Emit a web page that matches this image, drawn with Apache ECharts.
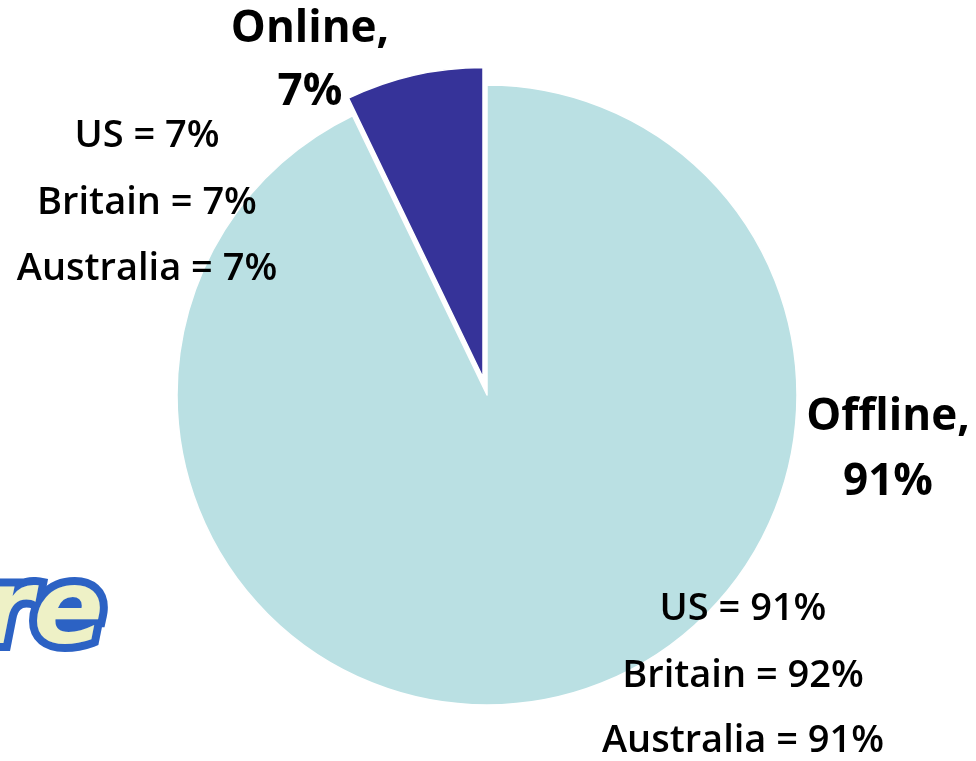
<!DOCTYPE html>
<html>
<head>
<meta charset="utf-8">
<script src="https://cdn.jsdelivr.net/npm/echarts@6/dist/echarts.min.js"></script>
<style>
html,body{margin:0;padding:0;background:#fff;}
#chart{width:976px;height:761px;}
</style>
</head>
<body>
<div id="chart"></div>
<script>
var categories = ['Offline', 'Online'];
var shares = [91, 7];
var countries = ['US', 'Britain', 'Australia'];
var onlineByCountry = [7, 7, 7];
var offlineByCountry = [91, 92, 91];

var chart = echarts.init(document.getElementById('chart'));
var FONT = '"Open Sans", sans-serif';

var mainLabelPos = {
  Online: { x: 310, ys: [29, 92] },
  Offline: { x: 888, ys: [417, 482] }
};

var graphics = [];
// partial logo at lower left
graphics.push({
  type: 'text',
  left: -26, top: 556,
  style: {
    text: 're',
    font: 'italic bold 104px "DejaVu Sans", sans-serif',
    fill: '#EEF1C6',
    stroke: '#2C62C4',
    lineWidth: 16
  },
  z: 1
});
// main category labels
categories.forEach(function (c, i) {
  var pos = mainLabelPos[c];
  [c + ',', shares[i] + '%'].forEach(function (t, k) {
    graphics.push({
      type: 'text',
      x: pos.x, y: pos.ys[k],
      style: {
        text: t,
        font: 'bold 44px ' + FONT,
        fill: '#000',
        textAlign: 'center',
        textVerticalAlign: 'middle'
      },
      z: 10
    });
  });
});
function addSub(values, cx, ys) {
  countries.forEach(function (c, i) {
    graphics.push({
      type: 'text',
      x: cx, y: ys[i],
      style: {
        text: c + ' = ' + values[i] + '%',
        font: '600 38px ' + FONT,
        fill: '#000',
        textAlign: 'center',
        textVerticalAlign: 'middle'
      },
      z: 10
    });
  });
}
addSub(onlineByCountry, 147, [136, 203, 269]);
addSub(offlineByCountry, 743, [609, 676, 741]);

chart.setOption({
  animation: false,
  backgroundColor: '#ffffff',
  graphic: graphics,
  series: [{
    type: 'pie',
    center: [487, 395],
    radius: [0, 310],
    startAngle: 90,
    clockwise: true,
    selectedMode: 'single',
    selectedOffset: 18,
    itemStyle: { borderColor: '#ffffff', borderWidth: 1.5 },
    label: { show: false },
    labelLine: { show: false },
    emphasis: { disabled: true },
    data: categories.map(function (c, i) {
      return {
        name: c,
        value: shares[i],
        selected: c === 'Online',
        itemStyle: { color: c === 'Online' ? '#363399' : '#BAE0E3' }
      };
    })
  }]
});
</script>
</body>
</html>
